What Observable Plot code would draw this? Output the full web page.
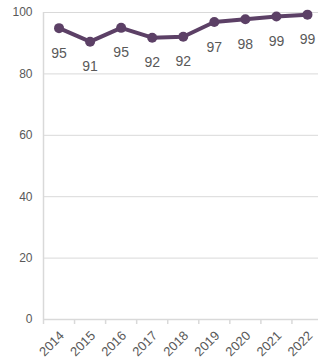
<!DOCTYPE html>
<html>
<head>
<meta charset="utf-8">
<script src="https://cdn.jsdelivr.net/npm/d3@7"></script>
<script src="https://cdn.jsdelivr.net/npm/@observablehq/plot@0.6"></script>
<style>
  html, body { margin: 0; padding: 0; background: #fff; }
  #chart { width: 318px; height: 360px; overflow: hidden; }
</style>
</head>
<body>
<div id="chart"></div>
<script>
const years = ["2014","2015","2016","2017","2018","2019","2020","2021","2022"];
const values = [94.9, 90.5, 95.0, 91.8, 92.1, 96.9, 97.8, 98.7, 99.3];
const labels = ["95","91","95","92","92","97","98","99","99"];
const yTicks = [0, 20, 40, 60, 80, 100];

const data = years.map((y, i) => ({i, year: y, value: values[i], label: labels[i]}));
const boundaries = d3.range(years.length).map(i => i - 0.5);

const lineColor = "#5c4066";
const gridColor = "#d9d9d9";
const textColor = "#595959";

const chart = Plot.plot({
  width: 318,
  height: 360,
  marginLeft: 43,
  marginTop: 12,
  marginBottom: 41,
  marginRight: 0,
  style: {fontFamily: "'Liberation Sans', Arial, sans-serif", color: textColor, background: "#fff", overflow: "visible"},
  x: {type: "linear", domain: [-0.5, 8.5], range: [43, 322.5]},
  y: {domain: [0, 100]},
  marks: [
    Plot.gridY(yTicks, {stroke: gridColor, strokeOpacity: 1, strokeWidth: 1}),
    Plot.ruleX([-0.5], {stroke: gridColor, strokeWidth: 1.5}),
    Plot.ruleY([0], {stroke: gridColor, strokeWidth: 1.5}),
    Plot.ruleX(boundaries, {x: d => d, y1: 0, y2: 0, insetBottom: -5, stroke: gridColor, strokeWidth: 1.5}),
    Plot.axisY(yTicks, {tickSize: 0, tickPadding: 11, fontSize: 12, fill: textColor, label: null}),
    Plot.axisX(d3.range(years.length), {tickSize: 0, tickPadding: 14, dx: 3, tickRotate: -45, fontSize: 13, fill: textColor, tickFormat: d => years[d], label: null}),
    Plot.line(data, {x: "i", y: "value", stroke: lineColor, strokeWidth: 4}),
    Plot.dot(data, {x: "i", y: "value", fill: lineColor, r: 5}),
    Plot.text(data, {x: "i", y: "value", text: "label", dy: 25, fill: textColor, fontSize: 14})
  ]
});
document.getElementById("chart").appendChild(chart);
</script>
</body>
</html>
